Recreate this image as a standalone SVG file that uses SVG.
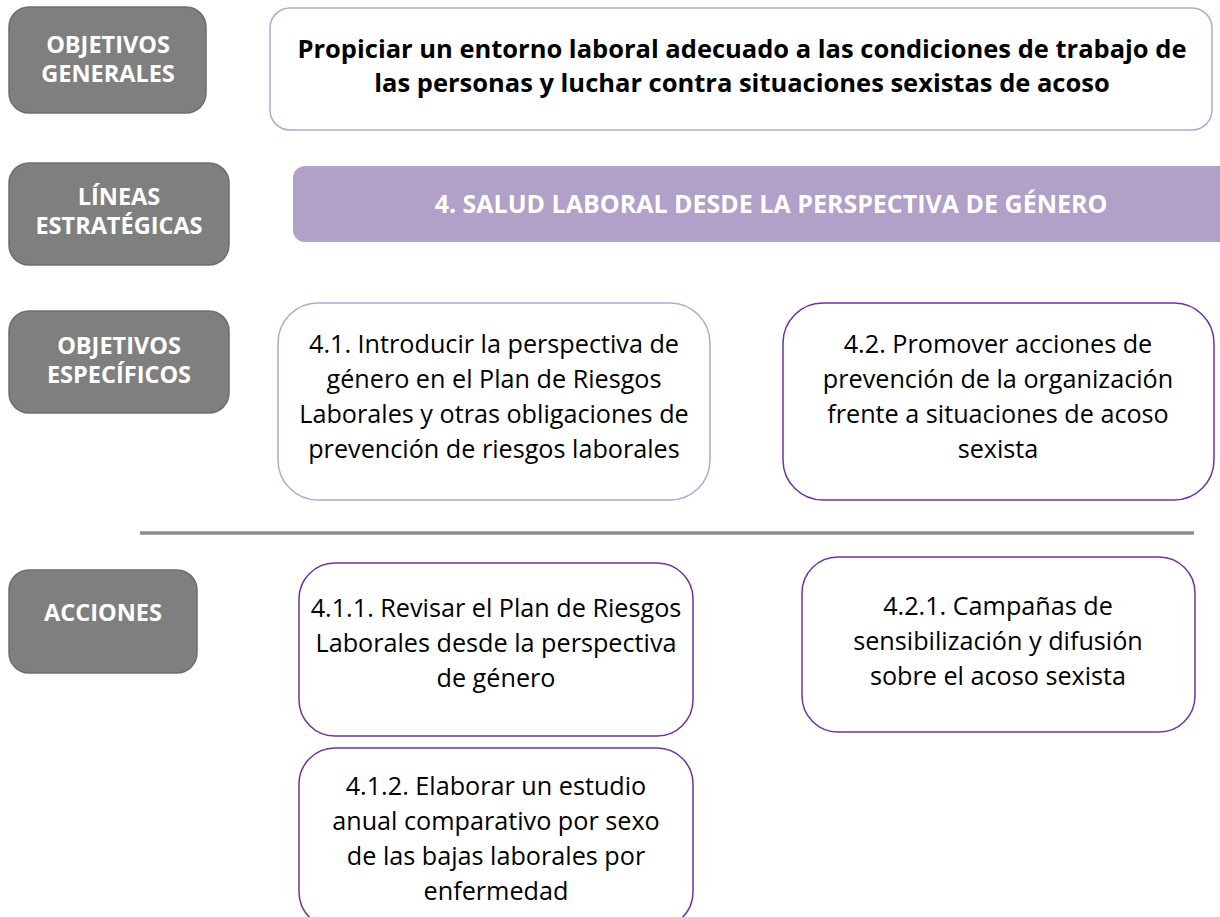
<svg xmlns="http://www.w3.org/2000/svg" width="1220" height="917" viewBox="0 0 1220 917">
<defs>
<style>
.lbl{fill:#7f7f7f;stroke:#6e6e6e;stroke-width:1.5}
.lt{font-family:"Open Sans","Liberation Sans",sans-serif;font-weight:700;font-size:23.5px;fill:#ffffff;text-anchor:middle}
.box{fill:#ffffff;stroke:#7030a0;stroke-width:1.5}
.boxl{fill:#ffffff;stroke:#b4a7d6;stroke-width:1.5}
.bt{font-family:"Open Sans","Liberation Sans",sans-serif;font-size:25.2px;fill:#000000;text-anchor:middle}
.tt{font-family:"Open Sans","Liberation Sans",sans-serif;font-weight:700;font-size:25.5px;fill:#000000;text-anchor:middle}
.pt{font-family:"Open Sans","Liberation Sans",sans-serif;font-weight:700;font-size:25px;fill:#ffffff;text-anchor:middle}
</style>
</defs>
<rect width="1220" height="917" fill="#ffffff"/>
<g id="lbl-generales">
<rect class="lbl" x="9" y="7" width="197" height="106" rx="20"/>
<text class="lt" x="108" y="53">OBJETIVOS</text>
<text class="lt" x="108" y="82">GENERALES</text>
</g>
<g id="lbl-lineas">
<rect class="lbl" x="9" y="163" width="220" height="102" rx="20"/>
<text class="lt" x="119" y="205">LÍNEAS</text>
<text class="lt" x="119" y="234">ESTRATÉGICAS</text>
</g>
<g id="lbl-especificos">
<rect class="lbl" x="9" y="311" width="220" height="102" rx="20"/>
<text class="lt" x="119" y="354">OBJETIVOS</text>
<text class="lt" x="119" y="383">ESPECÍFICOS</text>
</g>
<g id="lbl-acciones">
<rect class="lbl" x="9" y="570" width="188" height="103" rx="20"/>
<text class="lt" x="103" y="621">ACCIONES</text>
</g>
<g id="obj-general">
<rect class="boxl" x="270" y="8" width="942" height="122" rx="20"/>
<text class="tt" x="742" y="58">Propiciar un entorno laboral adecuado a las condiciones de trabajo de</text>
<text class="tt" x="742" y="92">las personas y luchar contra situaciones sexistas de acoso</text>
</g>
<g id="linea-4">
<rect x="293" y="166" width="940" height="76" rx="12" fill="#b1a0c7"/>
<text class="pt" x="771" y="213">4. SALUD LABORAL DESDE LA PERSPECTIVA DE GÉNERO</text>
</g>
<g id="obj-4-1">
<rect class="boxl" x="278" y="303" width="432" height="197" rx="40"/>
<text class="bt" x="494" y="353">4.1. Introducir la perspectiva de</text>
<text class="bt" x="494" y="388">género en el Plan de Riesgos</text>
<text class="bt" x="494" y="423">Laborales y otras obligaciones de</text>
<text class="bt" x="494" y="458">prevención de riesgos laborales</text>
</g>
<g id="obj-4-2">
<rect class="box" x="783" y="303" width="431" height="197" rx="40"/>
<text class="bt" x="998" y="353">4.2. Promover acciones de</text>
<text class="bt" x="998" y="388">prevención de la organización</text>
<text class="bt" x="998" y="423">frente a situaciones de acoso</text>
<text class="bt" x="998" y="458">sexista</text>
</g>
<g id="separator">
<line x1="140" y1="533" x2="1194" y2="533" stroke="#8c8c8c" stroke-width="3.5"/>
</g>
<g id="acc-4-1-1">
<rect class="box" x="299" y="563" width="394" height="173" rx="36"/>
<text class="bt" x="496" y="617">4.1.1. Revisar el Plan de Riesgos</text>
<text class="bt" x="496" y="652">Laborales desde la perspectiva</text>
<text class="bt" x="496" y="687">de género</text>
</g>
<g id="acc-4-1-2">
<rect class="box" x="299" y="748" width="394" height="180" rx="36"/>
<text class="bt" x="496" y="795">4.1.2. Elaborar un estudio</text>
<text class="bt" x="496" y="830">anual comparativo por sexo</text>
<text class="bt" x="496" y="865">de las bajas laborales por</text>
<text class="bt" x="496" y="900">enfermedad</text>
</g>
<g id="acc-4-2-1">
<rect class="box" x="802" y="557" width="393" height="175" rx="36"/>
<text class="bt" x="998" y="615">4.2.1. Campañas de</text>
<text class="bt" x="998" y="650">sensibilización y difusión</text>
<text class="bt" x="998" y="685">sobre el acoso sexista</text>
</g>
<g id="connectors"></g>
</svg>
